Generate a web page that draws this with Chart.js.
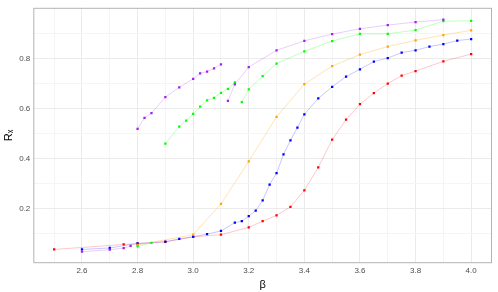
<!DOCTYPE html>
<html>
<head>
<meta charset="utf-8">
<script src="https://cdn.jsdelivr.net/npm/chart.js@4"></script>
<style>
  body { margin: 0; background: #fff; }
  #wrap { width: 498px; height: 292px; }
</style>
</head>
<body>
<div id="wrap"><canvas id="chart"></canvas></div>
<script>
// data
const redBeta = [2.5, 2.75, 2.8, 2.9, 3.0, 3.1, 3.2, 3.25, 3.3, 3.35, 3.4, 3.45, 3.5, 3.55, 3.6, 3.65, 3.7, 3.75, 3.8, 3.9, 4.0];
const redR = [0.037, 0.057, 0.060, 0.067, 0.087, 0.096, 0.125, 0.150, 0.173, 0.207, 0.273, 0.365, 0.476, 0.556, 0.618, 0.662, 0.700, 0.732, 0.750, 0.789, 0.818];

const blueBeta = [2.6, 2.7, 2.8, 2.9, 2.95, 3.0, 3.05, 3.1, 3.15, 3.175, 3.2, 3.225, 3.25, 3.275, 3.3, 3.325, 3.35, 3.375, 3.4, 3.45, 3.5, 3.55, 3.6, 3.65, 3.7, 3.75, 3.8, 3.85, 3.9, 3.95, 4.0];
const blueR = [0.037, 0.043, 0.061, 0.068, 0.079, 0.088, 0.098, 0.111, 0.144, 0.150, 0.170, 0.192, 0.233, 0.296, 0.342, 0.417, 0.473, 0.524, 0.577, 0.641, 0.687, 0.728, 0.757, 0.788, 0.802, 0.824, 0.833, 0.848, 0.858, 0.872, 0.878];

const orangeBeta = [2.8, 3.0, 3.1, 3.2, 3.3, 3.4, 3.5, 3.6, 3.7, 3.8, 3.9, 4.0];
const orangeR = [0.055, 0.096, 0.219, 0.389, 0.567, 0.698, 0.770, 0.816, 0.848, 0.873, 0.894, 0.913];

const greenLowBeta = [2.8, 2.85];
const greenLowR = [0.049, 0.063];
const greenMidBeta = [2.9, 2.95, 2.975, 3.0, 3.025, 3.05, 3.075, 3.1, 3.125, 3.15];
const greenMidR = [0.460, 0.528, 0.552, 0.579, 0.608, 0.633, 0.643, 0.663, 0.679, 0.705];
const greenHighBeta = [3.175, 3.2, 3.25, 3.3, 3.4, 3.5, 3.6, 3.7, 3.8, 3.9, 4.0];
const greenHighR = [0.626, 0.677, 0.730, 0.780, 0.829, 0.870, 0.899, 0.899, 0.914, 0.950, 0.951];

const purpleLowBeta = [2.6, 2.7, 2.75, 2.775];
const purpleLowR = [0.028, 0.036, 0.042, 0.051];
const purpleMidBeta = [2.8, 2.825, 2.85, 2.9, 2.95, 3.0, 3.025, 3.05, 3.075, 3.1];
const purpleMidR = [0.519, 0.563, 0.582, 0.646, 0.685, 0.719, 0.741, 0.748, 0.761, 0.777];
const purpleHighBeta = [3.125, 3.15, 3.2, 3.3, 3.4, 3.5, 3.6, 3.7, 3.8, 3.9];
const purpleHighR = [0.631, 0.697, 0.766, 0.833, 0.871, 0.898, 0.919, 0.934, 0.946, 0.956];

const xMajor = [2.6, 2.8, 3.0, 3.2, 3.4, 3.6, 3.8, 4.0];
const xMinor = [2.5, 2.7, 2.9, 3.1, 3.3, 3.5, 3.7, 3.9];
const yMajor = [0.2, 0.4, 0.6, 0.8];
const yMinor = [0.1, 0.3, 0.5, 0.7, 0.9];

function pts(xs, ys) {
  return xs.map((x, i) => ({ x: x, y: ys[i] }));
}

function series(xs, ys, color, fade) {
  return {
    data: pts(xs, ys),
    showLine: true,
    borderColor: fade,
    borderWidth: 1,
    backgroundColor: color,
    pointBackgroundColor: color,
    pointBorderWidth: 0,
    pointStyle: "rect",
    pointRadius: 1.6,
    tension: 0
  };
}

const RED = "#ff0000", BLUE = "#0000ff", ORANGE = "#ffa500", GREEN = "#00ff00", PURPLE = "#a020f0";

const datasets = [
  series(purpleLowBeta, purpleLowR, PURPLE, "rgba(160,32,240,0.22)"),
  series(purpleMidBeta, purpleMidR, PURPLE, "rgba(160,32,240,0.22)"),
  series(purpleHighBeta, purpleHighR, PURPLE, "rgba(160,32,240,0.22)"),
  series(greenLowBeta, greenLowR, GREEN, "rgba(0,255,0,0.25)"),
  series(greenMidBeta, greenMidR, GREEN, "rgba(0,255,0,0.25)"),
  series(greenHighBeta, greenHighR, GREEN, "rgba(0,255,0,0.25)"),
  series(orangeBeta, orangeR, ORANGE, "rgba(255,165,0,0.3)"),
  series(blueBeta, blueR, BLUE, "rgba(0,0,255,0.22)"),
  series(redBeta, redR, RED, "rgba(255,0,0,0.22)")
];

// panel border like ggplot
const panelBorder = {
  id: "panelBorder",
  afterDraw(chart) {
    const a = chart.chartArea, ctx = chart.ctx;
    ctx.save();
    ctx.strokeStyle = "#b3b3b3";
    ctx.lineWidth = 1;
    ctx.strokeRect(a.left + 0.5, a.top + 0.5, a.right - a.left - 1, a.bottom - a.top - 1);
    ctx.restore();
  }
};

const isMajor = (list, v) => list.some(m => Math.abs(m - v) < 1e-6);

new Chart(document.getElementById("chart"), {
  type: "scatter",
  data: { datasets: datasets },
  plugins: [panelBorder],
  options: {
    responsive: true,
    maintainAspectRatio: false,
    animation: false,
    layout: { padding: { left: 2, right: 6, top: 6, bottom: 0 } },
    plugins: {
      legend: { display: false },
      tooltip: { enabled: false }
    },
    scales: {
      x: {
        type: "linear",
        min: 2.425,
        max: 4.075,
        afterBuildTicks: s => { s.ticks = xMinor.concat(xMajor).sort((a, b) => a - b).map(v => ({ value: v })); },
        ticks: {
          autoSkip: false,
          maxRotation: 0,
          color: "#4d4d4d",
          font: { family: "Liberation Sans, Arial, sans-serif", size: 8 },
          padding: 3,
          callback: v => isMajor(xMajor, v) ? v.toFixed(1) : ""
        },
        grid: {
          color: c => isMajor(xMajor, c.tick.value) ? "#ebebeb" : "#f5f5f5",
          lineWidth: 1,
          drawTicks: false
        },
        border: { display: false },
        title: {
          display: true,
          text: "β",
          color: "#000",
          font: { family: "Liberation Sans, Arial, sans-serif", size: 11 },
          padding: { top: 0, bottom: 0 }
        }
      },
      y: {
        type: "linear",
        min: -0.018,
        max: 1.003,
        afterBuildTicks: s => { s.ticks = yMinor.concat(yMajor).sort((a, b) => a - b).map(v => ({ value: v })); },
        ticks: {
          autoSkip: false,
          color: "#4d4d4d",
          font: { family: "Liberation Sans, Arial, sans-serif", size: 8 },
          padding: 3,
          callback: v => isMajor(yMajor, v) ? v.toFixed(1) : ""
        },
        grid: {
          color: c => isMajor(yMajor, c.tick.value) ? "#ebebeb" : "#f5f5f5",
          lineWidth: 1,
          drawTicks: false
        },
        border: { display: false },
        title: {
          display: true,
          text: "Rₓ",
          color: "#000",
          font: { family: "Liberation Sans, Arial, sans-serif", size: 11 },
          padding: { top: 0, bottom: 1 }
        }
      }
    }
  }
});
</script>
</body>
</html>
